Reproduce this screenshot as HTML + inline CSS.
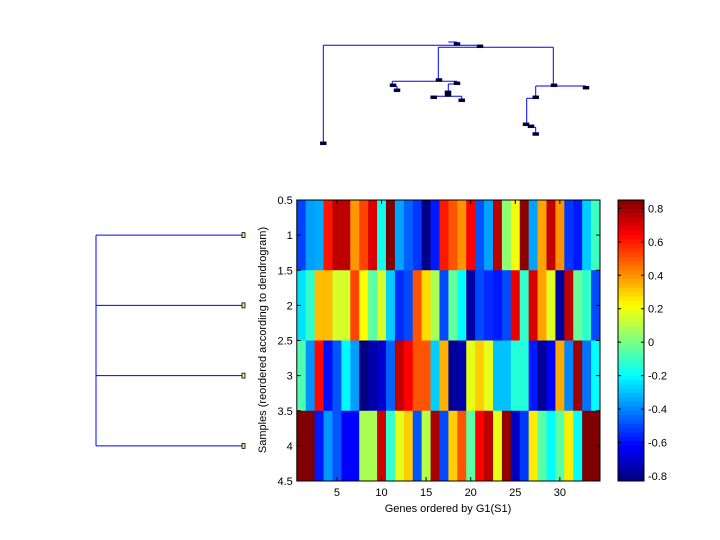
<!DOCTYPE html>
<html><head><meta charset="utf-8"><style>
html,body{margin:0;padding:0;background:#fff;width:720px;height:540px;overflow:hidden}
svg text{font-family:"Liberation Sans",sans-serif;font-size:11px;fill:#000}
</style></head><body>
<svg id="chart" width="720" height="540" viewBox="0 0 720 540" xmlns="http://www.w3.org/2000/svg">
<rect width="720" height="540" fill="#fff"/>
<g id="topDendro"></g>
<g id="leftDendro"></g>
<g id="heat"></g>
<g id="axes"></g>
<g id="cbar"></g>
<text x="448" y="512" text-anchor="middle">Genes ordered by G1(S1)</text>
<text transform="translate(266,340) rotate(-90)" text-anchor="middle">Samples (reordered according to dendrogram)</text>
</svg>
<script>
const rowLabels=[1,2,3,4];
const xTicks=[5,10,15,20,25,30];
const yTicks=[0.5,1,1.5,2,2.5,3,3.5,4,4.5];
const cbTicks=[0.8,0.6,0.4,0.2,0,-0.2,-0.4,-0.6,-0.8];
const row1=[-0.51,-0.36,-0.34,0.61,0.75,0.75,0.39,0.53,0.70,-0.17,0.85,-0.35,-0.46,-0.53,-0.82,-0.58,0.60,0.50,0.40,0.64,-0.48,-0.35,0.75,0.03,0.20,0.83,-0.35,0.37,0.74,0.40,-0.53,-0.58,-0.28,-0.10];
const row2=[-0.25,-0.12,0.33,0.33,0.15,0.15,0.53,0.22,-0.05,0.15,-0.28,-0.55,-0.50,0.50,0.28,0.08,-0.50,-0.03,-0.20,-0.77,-0.50,-0.55,-0.58,-0.50,0.67,-0.12,0.70,0.37,0.17,-0.78,0.74,-0.03,-0.12,-0.50];
const row3=[-0.07,-0.38,0.63,-0.60,-0.48,-0.21,-0.36,-0.83,-0.76,-0.70,-0.46,0.74,0.64,0.50,0.50,-0.28,0.35,-0.79,-0.76,0.18,0.30,0.18,-0.30,-0.30,-0.14,-0.14,-0.58,-0.79,-0.62,0.36,-0.40,0.80,-0.43,-0.20];
const row4=[0.85,0.85,-0.58,-0.37,-0.48,-0.62,-0.62,0.08,0.08,0.72,-0.12,0.18,0.30,-0.48,0.10,0.78,-0.50,0.30,0.50,-0.05,0.64,0.75,0.18,0.82,-0.72,-0.53,0.25,-0.05,-0.20,-0.05,0.25,-0.20,0.85,0.85];
const rows=[row1,row2,row3,row4];
const cmin=-0.83,cmax=0.85;
const NS="http://www.w3.org/2000/svg";
const L=296.8,R=600,T=200,B=481;
const nCols=row1.length;
const xs=v=>L+(v-0.5)*(R-L)/nCols;
const ys=v=>T+(v-0.5)*(B-T)/rows.length;
function jet(v){let t=(v-cmin)/(cmax-cmin);t=Math.max(0,Math.min(1,t));
 const f=x=>Math.round(255*Math.max(0,Math.min(1,1.5-Math.abs(4*t-x))));
 return `rgb(${f(3)},${f(2)},${f(1)})`;}
function el(tag,attrs,parent){const e=document.createElementNS(NS,tag);for(const k in attrs)e.setAttribute(k,attrs[k]);parent.appendChild(e);return e;}
const heat=document.getElementById('heat');
rows.forEach((r,i)=>r.forEach((v,j)=>{
 const c=el('rect',{x:xs(j+0.5),y:ys(i+0.5),width:xs(j+1.5)-xs(j+0.5)+0.4,height:ys(i+1.5)-ys(i+0.5)+0.4,fill:jet(v)},heat);
 
 
}));
const ax=document.getElementById('axes');
el('rect',{x:L,y:T,width:R-L,height:B-T,fill:'none',stroke:'#000','stroke-width':1},ax);
xTicks.forEach(t=>{const x=xs(t);
 el('line',{x1:x,x2:x,y1:B,y2:B-4,stroke:'#000'},ax);el('line',{x1:x,x2:x,y1:T,y2:T+4,stroke:'#000'},ax);
 const tx=el('text',{x:x,y:B+15,'text-anchor':'middle'},ax);tx.textContent=t;
 
 });
yTicks.forEach(t=>{const y=ys(t);
 el('line',{x1:L,x2:L+4,y1:y,y2:y,stroke:'#000'},ax);el('line',{x1:R,x2:R-4,y1:y,y2:y,stroke:'#000'},ax);
 const tx=el('text',{x:L-4,y:y+4,'text-anchor':'end'},ax);tx.textContent=t;
 
 });
// colorbar
const cb=document.getElementById('cbar');const CL=618,CR=644;
const cy=v=>T+(cmax-v)/(cmax-cmin)*(B-T);
for(let k=0;k<64;k++){const v1=cmax-k*(cmax-cmin)/64;
 el('rect',{x:CL,y:cy(v1),width:CR-CL,height:(B-T)/64+0.5,fill:jet(v1-(cmax-cmin)/128)},cb);}
el('rect',{x:CL,y:T,width:CR-CL,height:B-T,fill:'none',stroke:'#000'},cb);
cbTicks.forEach(t=>{const y=cy(t);
 el('line',{x1:CL,x2:CL+3,y1:y,y2:y,stroke:'#000'},cb);el('line',{x1:CR,x2:CR-3,y1:y,y2:y,stroke:'#000'},cb);
 const tx=el('text',{x:CR+4,y:y+4},cb);tx.textContent=t;
 
 });
// top dendrogram
const td=document.getElementById('topDendro');
const segs=[[323.3,45.3,480,45.3],[323.3,45.3,323.3,143.3],[448.3,42,457,42],
[438.3,47.3,553.3,47.3],[438.3,47.3,438.3,80],[553.3,47.3,553.3,85.3],
[392.3,81.3,457,81.3],[392.3,81.3,392.3,85.3],[393,86.3,397,86.3],[397,86.3,397,90.3],
[457,81.3,457,83.3],[448.3,84,457,84],[448.3,84,448.3,92.3],[433.7,96.3,461.7,96.3],[461.7,96.3,461.7,100.3],
[535.7,86,586,86],[535.7,86,535.7,97],[526.7,98.3,535.7,98.3],[526.7,98.3,526.7,124.3],
[526,125.3,531,125.3],[531,127.3,535.7,127.3],[535.7,127.3,535.7,133.7]];
segs.forEach(s=>el('line',{x1:s[0],y1:s[1],x2:s[2],y2:s[3],stroke:'#0000ff','stroke-width':1},td));
const marks=[[323.3,143.3],[457,44],[480,46.3],[439,80],[393,85.3],[397,90.3],[457,83.3],[448,92.3],[448,95],[433.7,97.3],[461.7,100.3],[554,85.3],[586,87.7],[535.7,97.3],[526,124.3],[531,126.3],[535.7,134]];
marks.forEach(m=>el('rect',{x:m[0]-3,y:m[1]-1.5,width:6,height:3,fill:'#000',stroke:'#00008b','stroke-width':0.5},td));
// left dendrogram
const ld=document.getElementById('leftDendro');
el('line',{x1:96,x2:96,y1:ys(1),y2:ys(4),stroke:'#0000ff'},ld);
rowLabels.forEach(r=>{const y=ys(r);
 el('line',{x1:96,x2:243,y1:y,y2:y,stroke:'#0000ff'},ld);
 el('rect',{x:242,y:y-2.5,width:3,height:5,fill:'#c8ff80',stroke:'#000','stroke-width':0.8},ld);});
</script>
</body></html>
